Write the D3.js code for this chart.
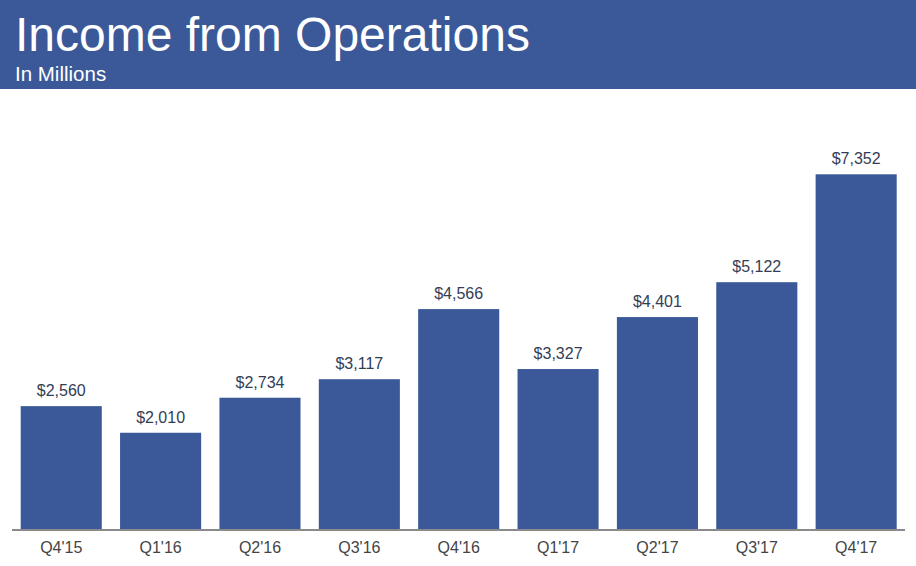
<!DOCTYPE html>
<html><head><meta charset="utf-8">
<script src="https://cdn.jsdelivr.net/npm/d3@7"></script>
<style>body{margin:0;background:#fff;}svg{display:block;}</style>
</head><body>
<script>
const categories = ["Q4'15","Q1'16","Q2'16","Q3'16","Q4'16","Q1'17","Q2'17","Q3'17","Q4'17"];
const values = [2560,2010,2734,3117,4566,3327,4401,5122,7352];
const valueLabels = ["$2,560","$2,010","$2,734","$3,117","$4,566","$3,327","$4,401","$5,122","$7,352"];

const W=916,H=566;
const svg=d3.select("body").append("svg").attr("width",W).attr("height",H);
svg.append("rect").attr("x",0).attr("y",0).attr("width",W).attr("height",89).attr("fill","#3b5998");
svg.append("text").attr("x",15).attr("y",51).attr("fill","#fff")
  .attr("font-family","Liberation Sans, Arial, sans-serif").attr("font-size",48).text("Income from Operations");
svg.append("text").attr("x",15).attr("y",81).attr("fill","#fff")
  .attr("font-family","Liberation Sans, Arial, sans-serif").attr("font-size",20.5).text("In Millions");

const baseY=530;
const x=d3.scaleBand().domain(categories).range([20.7,896.7]).paddingInner(0.184).paddingOuter(0);
const y=d3.scaleLinear().domain([0,7352]).range([baseY,174.3]);

svg.selectAll("rect.bar").data(values).enter().append("rect").attr("class","bar")
  .attr("x",(d,i)=>x(categories[i])).attr("width",x.bandwidth())
  .attr("y",d=>y(d)).attr("height",d=>baseY-y(d)).attr("fill","#3b5998");

svg.selectAll("text.val").data(values).enter().append("text").attr("class","val")
  .attr("x",(d,i)=>x(categories[i])+x.bandwidth()/2).attr("y",d=>y(d)-10)
  .attr("text-anchor","middle").attr("font-family","Liberation Sans, Arial, sans-serif")
  .attr("font-size",16).attr("fill","#333d55").text((d,i)=>valueLabels[i]);

const axis=d3.axisBottom(x).tickSize(0).tickPadding(12);
const g=svg.append("g").attr("transform",`translate(0,${baseY})`).call(axis);
g.select(".domain").remove();
g.selectAll("text").attr("font-family","Liberation Sans, Arial, sans-serif").attr("font-size",16).attr("fill","#444");
svg.append("line").attr("x1",12).attr("x2",905).attr("y1",baseY).attr("y2",baseY)
  .attr("stroke","#8a8a8a").attr("stroke-width",2);
</script>
</body></html>
